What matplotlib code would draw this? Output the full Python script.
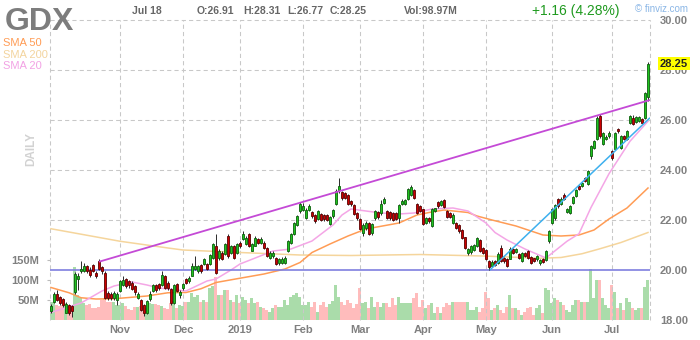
import matplotlib
matplotlib.use("Agg")
import matplotlib.pyplot as plt
import matplotlib.transforms as mtrans
import numpy as np

plt.rcParams['font.family'] = ['Liberation Sans', 'DejaVu Sans']

# ---------------- data (trading days 2018-10-01 .. 2019-07-18) ----------------
ticker = "GDX"
month_labels = ["Nov", "Dec", "2019", "Feb", "Mar", "Apr", "May", "Jun", "Jul"]
month_idx = [23, 44, 63, 84, 103, 124, 145, 167, 187]

opens = [
    # Oct
    18.38, 18.72, 19.05, 18.92, 18.85, 18.30, 18.60, 18.55, 19.10, 19.66, 19.95, 19.98, 20.15, 20.00, 20.20,
    19.88, 20.35, 20.10, 19.88, 19.10, 19.05, 18.90, 18.80,
    # Nov
    19.15, 19.40, 19.62, 19.55, 19.50, 19.35, 18.90, 18.80, 18.60, 18.30, 18.85, 19.15, 19.40, 19.45, 19.40,
    19.75, 19.50, 19.25, 18.70, 19.42, 19.00,
    # Dec
    19.28, 19.64, 19.56, 19.78, 20.05, 19.98, 20.20, 20.24, 20.24, 20.25, 20.50, 20.95, 20.50, 20.68, 20.65,
    21.36, 20.70, 20.95, 20.70,
    # Jan
    21.10, 21.25, 21.05, 21.44, 20.78, 20.98, 21.25, 21.10, 21.08, 20.88, 20.50, 20.55, 20.48, 20.28, 20.30,
    20.30, 20.78, 21.10, 21.45, 21.80, 22.36,
    # Feb
    22.42, 22.10, 22.40, 22.32, 22.20, 22.05, 22.24, 22.20, 22.20, 21.86, 22.16, 22.65, 23.22, 23.10, 23.08,
    23.02, 22.76, 22.62, 22.28,
    # Mar
    22.04, 21.50, 21.68, 21.88, 21.48, 22.08, 22.32, 22.28, 22.70, 22.36, 22.30, 22.28, 22.28, 22.10, 22.64,
    22.66, 22.86, 23.00, 23.20, 22.64, 22.56,
    # Apr
    22.42, 21.90, 22.08, 21.78, 22.38, 22.72, 22.60, 22.80, 22.36, 22.30, 21.90, 21.88, 21.80, 21.62, 21.30,
    20.68, 20.72, 20.80, 20.98, 21.20, 20.88,
    # May
    20.82, 20.36, 20.16, 20.36, 20.30, 20.88, 20.48, 20.46, 20.46, 20.86, 20.72, 20.64, 20.38, 20.68, 20.76,
    20.54, 20.46, 20.42, 20.30, 20.46, 20.40, 21.16,
    # Jun
    21.90, 22.10, 22.84, 22.66, 23.00, 22.32, 22.30, 22.70, 22.98, 23.36, 23.36, 23.68, 23.46, 24.58, 24.90,
    25.25, 26.16, 25.06, 25.24, 25.36,
    # Jul
    24.76, 24.86, 25.64, 24.90, 25.36, 25.26, 25.90, 26.08, 25.92, 25.96, 26.04, 26.10, 26.91,
]
closes = [
    18.56, 19.03, 18.82, 18.68, 18.60, 18.66, 18.30, 18.35, 19.85, 19.76, 20.05, 20.15, 19.95, 19.80, 19.98,
    19.78, 20.05, 19.95, 18.90, 18.90, 18.90, 19.10, 19.05,
    19.55, 19.62, 19.35, 19.40, 19.25, 19.10, 19.05, 18.40, 18.30, 18.75, 19.05, 19.40, 19.20, 19.30, 19.82,
    19.30, 19.30, 18.70, 19.40, 19.18, 19.12,
    19.44, 19.50, 19.70, 20.15, 20.18, 20.15, 19.95, 20.44, 20.04, 20.60, 21.04, 19.90, 20.75, 20.45, 21.04,
    20.56, 20.95, 20.50, 21.04,
    20.96, 21.44, 21.28, 20.98, 21.04, 21.28, 21.10, 21.25, 20.90, 20.58, 20.68, 20.70, 20.25, 20.45, 20.45,
    20.48, 21.16, 21.44, 21.88, 22.16, 22.64,
    22.58, 22.42, 22.58, 22.16, 21.95, 22.35, 22.02, 22.04, 22.00, 22.12, 22.40, 23.16, 23.38, 22.88, 22.90,
    22.66, 22.64, 22.26, 22.08,
    21.66, 21.82, 21.88, 21.46, 21.84, 22.36, 22.12, 22.64, 22.86, 22.10, 22.08, 22.00, 22.04, 22.62, 22.78,
    22.78, 23.24, 23.32, 22.90, 22.30, 22.38,
    21.86, 22.08, 21.95, 22.46, 22.46, 22.56, 22.76, 22.52, 22.14, 22.12, 22.22, 21.70, 21.56, 21.30, 20.90,
    20.84, 20.96, 21.00, 21.28, 20.78, 20.70,
    20.46, 20.10, 20.34, 20.22, 20.66, 20.38, 20.36, 20.18, 20.86, 20.70, 20.85, 20.50, 20.68, 20.56, 20.50,
    20.30, 20.36, 20.56, 20.42, 20.34, 20.76, 21.56,
    22.44, 22.60, 22.56, 22.86, 22.84, 22.44, 22.56, 22.92, 23.20, 23.24, 23.48, 23.56, 23.96, 24.96, 25.16,
    26.08, 25.38, 25.48, 25.32, 25.48,
    24.48, 25.48, 25.56, 25.36, 25.24, 25.56, 26.16, 25.86, 26.14, 26.10, 25.90, 27.09, 28.25,
]
highs = [
    18.66, 19.12, 19.20, 18.98, 18.90, 18.72, 18.64, 18.60, 19.92, 19.90, 20.35, 20.30, 20.20, 20.10, 20.25,
    19.98, 20.42, 20.18, 19.95, 19.15, 19.10, 19.18, 19.10,
    19.62, 19.75, 19.68, 19.60, 19.55, 19.40, 19.10, 18.85, 18.65, 18.80, 19.15, 19.45, 19.45, 19.50, 19.95,
    19.80, 19.58, 19.30, 19.45, 19.50, 19.20,
    19.50, 19.70, 19.75, 20.30, 20.55, 20.22, 20.25, 20.50, 20.30, 20.65, 21.10, 21.44, 20.85, 20.75, 21.10,
    21.45, 21.00, 21.00, 21.10,
    21.15, 21.55, 21.35, 21.50, 21.10, 21.35, 21.30, 21.32, 21.15, 20.92, 20.75, 20.75, 20.52, 20.50, 20.52,
    20.55, 21.20, 21.50, 21.92, 22.22, 22.72,
    22.68, 22.48, 22.64, 22.38, 22.25, 22.40, 22.30, 22.26, 22.25, 22.18, 22.45, 23.25, 23.70, 23.15, 23.12,
    23.05, 22.80, 22.66, 22.32,
    22.08, 21.88, 21.95, 21.92, 21.90, 22.42, 22.36, 22.80, 22.92, 22.40, 22.35, 22.32, 22.32, 22.66, 22.84,
    22.84, 23.30, 23.40, 23.25, 22.68, 22.60,
    22.46, 22.12, 22.12, 22.50, 22.50, 22.76, 22.80, 22.84, 22.40, 22.34, 22.28, 21.92, 21.84, 21.66, 21.34,
    20.88, 21.00, 21.05, 21.32, 21.24, 20.92,
    20.86, 20.40, 20.40, 20.40, 20.72, 21.00, 20.52, 20.50, 20.92, 20.90, 20.90, 20.68, 20.72, 20.72, 20.80,
    20.58, 20.50, 20.60, 20.46, 20.50, 20.80, 21.60,
    22.50, 22.66, 22.90, 22.92, 23.10, 22.48, 22.60, 22.96, 23.25, 23.40, 23.52, 23.72, 24.00, 25.02, 25.20,
    26.18, 26.26, 25.52, 25.40, 25.55,
    24.80, 25.52, 25.68, 25.40, 25.40, 25.60, 26.22, 26.20, 26.18, 26.16, 26.08, 27.14, 28.31,
]
lows = [
    18.30, 18.68, 18.76, 18.60, 18.52, 18.26, 18.22, 18.10, 19.05, 19.20, 19.88, 19.92, 19.90, 19.72, 19.92,
    19.70, 20.00, 19.85, 18.85, 18.82, 18.80, 18.80, 18.60,
    19.10, 19.35, 19.28, 19.30, 19.20, 19.02, 18.85, 18.35, 18.18, 18.25, 18.75, 19.10, 19.12, 19.22, 19.35,
    19.25, 19.22, 18.60, 18.65, 19.10, 18.90,
    19.20, 19.45, 19.50, 19.75, 20.00, 19.90, 19.88, 20.20, 20.00, 20.20, 20.45, 19.85, 20.40, 20.40, 20.60,
    20.50, 20.65, 20.45, 20.65,
    20.90, 21.20, 21.00, 20.92, 20.75, 20.95, 21.05, 21.05, 20.85, 20.52, 20.45, 20.50, 20.20, 20.22, 20.25,
    20.25, 20.72, 21.05, 21.40, 21.75, 22.30,
    22.35, 22.05, 22.35, 22.10, 21.90, 22.00, 21.98, 21.98, 21.95, 21.80, 22.10, 22.60, 23.10, 22.82, 22.85,
    22.60, 22.58, 22.20, 22.02,
    21.60, 21.36, 21.62, 21.40, 21.42, 22.02, 22.06, 22.22, 22.65, 22.05, 22.02, 21.95, 22.00, 21.90, 22.60,
    22.60, 22.80, 22.95, 22.85, 22.25, 22.32,
    21.80, 21.85, 21.90, 21.72, 22.34, 22.50, 22.55, 22.48, 22.10, 22.08, 21.85, 21.65, 21.50, 21.25, 20.85,
    20.62, 20.65, 20.75, 20.94, 20.72, 20.65,
    20.40, 20.02, 20.12, 20.18, 20.25, 20.32, 20.30, 20.12, 20.42, 20.65, 20.68, 20.45, 20.34, 20.52, 20.45,
    20.25, 20.32, 20.38, 20.22, 20.30, 20.36, 21.10,
    21.85, 22.00, 22.50, 22.60, 22.80, 22.28, 22.25, 22.65, 22.94, 23.20, 23.32, 23.52, 23.42, 24.45, 24.85,
    25.20, 25.30, 25.00, 25.20, 25.30,
    24.40, 24.80, 25.50, 24.85, 25.20, 25.20, 25.85, 25.80, 25.88, 25.92, 25.85, 26.05, 26.77,
]
volumes_m = [
    46, 45, 38, 35, 38, 42, 33, 35, 133, 62, 54, 42, 38, 40, 30, 30, 32, 50, 56, 46, 44, 46, 37,
    38, 42, 35, 28, 26, 33, 32, 36, 38, 30, 42, 40, 41, 38, 35, 29, 28, 42, 48, 29, 38,
    35, 44, 46, 67, 58, 62, 46, 50, 46, 79, 84, 108, 62, 62, 75, 75, 50, 46, 62,
    42, 58, 50, 42, 54, 42, 46, 33, 29, 25, 21, 29, 37, 33, 33, 50, 38, 58, 62, 67, 58,
    37, 37, 46, 33, 46, 21, 37, 46, 33, 40, 48, 87, 58, 46, 37, 50, 42, 29, 40,
    79, 42, 46, 29, 58, 33, 46, 33, 42, 42, 33, 54, 37, 58, 42, 42, 42, 42, 54, 67, 33,
    50, 29, 37, 42, 17, 33, 17, 33, 42, 37, 46, 46, 46, 46, 46, 46, 25, 25, 33, 21, 30,
    71, 54, 25, 29, 37, 25, 17, 33, 62, 29, 29, 25, 13, 20, 29, 33, 13, 29, 37, 17, 79, 75,
    42, 54, 50, 46, 37, 25, 21, 38, 50, 50, 46, 46, 46, 127, 54, 100, 100, 54, 37, 29,
    87, 71, 29, 42, 25, 54, 46, 29, 25, 29, 29, 83, 99,
]

# moving averages (bar index, value)
sma200_idx = [0, 23, 39, 44, 63, 83, 100, 123, 144, 163, 170, 177, 183, 190, 199]
sma200_val = [21.65, 21.15, 20.88, 20.80, 20.70, 20.60, 20.58, 20.62, 20.56, 20.47, 20.50, 20.65, 20.85, 21.10, 21.50]
sma50_idx = [0, 6, 10, 15, 21, 32, 39, 45, 50, 55, 62, 71, 78, 83, 87, 93, 99, 105, 116, 122, 126, 131,
             139, 142, 147, 155, 164, 170, 176, 181, 186, 192, 199]
sma50_val = [19.30, 19.09, 18.89, 18.84, 18.85, 18.96, 19.09, 19.10, 19.25, 19.50, 19.65, 19.84, 20.04, 20.30,
             20.70, 21.04, 21.36, 21.64, 21.88, 22.20, 22.30, 22.40, 22.30, 22.16, 22.00, 21.76, 21.40, 21.36,
             21.40, 21.60, 22.04, 22.48, 23.28]
sma20_idx = [0, 10, 17, 21, 27, 32, 36, 45, 52, 55, 60, 63, 74, 80, 87, 94, 97, 100, 105, 110, 116, 121,
             127, 134, 139, 145, 148, 152, 158, 165, 172, 176, 180, 186, 193, 199]
sma20_val = [18.30, 18.68, 19.16, 19.36, 19.52, 19.40, 19.28, 19.16, 19.56, 19.64, 20.00, 20.24, 20.76, 20.84,
             21.16, 21.80, 22.20, 22.44, 22.36, 22.28, 22.24, 22.28, 22.44, 22.48, 22.36, 21.88, 21.50, 21.20,
             20.84, 20.48, 21.15, 21.45, 22.50, 23.85, 25.15, 25.95]

# trend lines (bar index, price)
trend_up_idx = [16, 199.67]
trend_up_val = [20.33, 26.80]
trend_fast_idx = [146.3, 199.67]
trend_fast_val = [20.00, 26.09]
hline_level = 20.0

price_ticks = [18, 20, 22, 24, 26, 28, 30]
vol_ticks = [50, 100, 150]
vol_tick_labels = ["50M", "100M", "150M"]

# ---------------- figure ----------------
W, H = 700, 340
fig = plt.figure(figsize=(W / 100, H / 100), dpi=100)
fig.patch.set_facecolor("white")
L, R, T, B = 50, 650, 20, 320
pos = [L / W, (H - B) / H, (R - L) / W, (B - T) / H]

n = len(closes)
x = np.arange(n)
xlo, xhi = -0.33, n - 0.33

GRID = "#c8c8c8"
LABEL = "#808080"

axv = fig.add_axes(pos)
ax = fig.add_axes(pos)
ax.patch.set_alpha(0)

# volume axis
up = [c >= o for o, c in zip(opens, closes)]
vcol = ["#aadcaa" if u else "#ffbcbc" for u in up]
axv.bar(x, volumes_m, width=1.0, color=vcol, linewidth=0)
axv.set_xlim(xlo, xhi)
axv.set_ylim(0, 750)
for s in axv.spines.values():
    s.set_visible(False)
axv.set_xticks([])
axv.set_yticks(vol_ticks)
axv.set_yticklabels(vol_tick_labels)
axv.tick_params(axis="y", length=2.5, width=0.8, color="#bbbbbb", pad=5, labelsize=8,
                labelcolor=LABEL)
for t in axv.get_yticklabels():
    t.set_fontweight("bold")

# price axis
ax.set_xlim(xlo, xhi)
ax.set_ylim(18, 30)
for s in ax.spines.values():
    s.set_visible(False)

dash = (0, (4, 3))
for t in month_idx + [xlo, xhi]:
    ax.axvline(t, color=GRID, lw=0.75, ls=dash, zorder=0.5, clip_on=False)
for p in price_ticks:
    if p in (18, 20):
        continue
    ax.axhline(p, color=GRID, lw=0.75, ls=dash, zorder=0.5, clip_on=False)

ax.plot(sma200_idx, sma200_val, color="#f5d59c", lw=1.1, zorder=1)
ax.plot(sma50_idx, sma50_val, color="#ff9c55", lw=1.1, zorder=1)
ax.plot(sma20_idx, sma20_val, color="#f4a6e6", lw=1.1, zorder=1)

ax.axhline(hline_level, color="#7f7fdf", lw=1.2, zorder=1.5)

# candles
ax.vlines(x, lows, highs, color="#2a2a2a", lw=0.7, zorder=2)
bottoms = [min(o, c) for o, c in zip(opens, closes)]
heights = [max(abs(c - o), 0.03) for o, c in zip(opens, closes)]
ccol = ["#1fc41f" if u else "#cc0000" for u in up]
ecol = ["#0b5e0b" if u else "#5a0000" for u in up]
ax.bar(x, heights, bottom=bottoms, width=0.72, color=ccol, edgecolor=ecol, linewidth=0.6, zorder=3)

ax.plot(trend_up_idx, trend_up_val, color="#c44ad6", lw=1.3, zorder=4, solid_capstyle="butt")
ax.plot(trend_fast_idx, trend_fast_val, color="#3eb0ee", lw=1.1, zorder=4, solid_capstyle="butt")

ax.yaxis.tick_right()
ax.set_yticks(price_ticks)
ax.set_yticklabels(["%.2f" % p for p in price_ticks])
ax.tick_params(axis="y", length=0, pad=7.2, labelsize=8, labelcolor=LABEL)
ax.set_xticks(month_idx)
ax.set_xticklabels(month_labels)
ax.tick_params(axis="x", length=0, pad=3.5, labelsize=8, labelcolor=LABEL)
for t in ax.get_yticklabels() + ax.get_xticklabels():
    t.set_fontweight("bold")

# last price label
tr = mtrans.blended_transform_factory(ax.transAxes, ax.transData)
ax.text(1.0 + 10 / 600, closes[-1], "%.2f" % closes[-1], transform=tr, ha="left", va="center",
        fontsize=8, fontweight="bold", color="#222222", zorder=10, clip_on=False,
        bbox=dict(boxstyle="square,pad=0.15", fc="#ffff00", ec="none"))

# header texts
def ftext(px, py, s, **kw):
    fig.text(px / W, 1 - py / H, s, **kw)

ftext(5, 30, ticker, fontsize=23, fontweight="bold", color="#7d7d7d", va="baseline", ha="left")
ftext(3, 46, "SMA 50", fontsize=8, color="#ff9c55", va="baseline")
ftext(3, 57.5, "SMA 200", fontsize=8, color="#f3d49e", va="baseline")
ftext(3, 69, "SMA 20", fontsize=8, color="#f2a2e4", va="baseline")
ftext(31, 149, "DAILY", fontsize=8.5, fontweight="bold", color="#d2d2d2", rotation=90,
      ha="center", va="center")

hdr = dict(fontsize=7.5, fontweight="bold", color="#666666", va="baseline", ha="left")
ftext(132, 14.5, "Jul 18", **hdr)
ftext(197, 14.5, "O:%.2f" % opens[-1], **hdr)
ftext(243, 14.5, "H:%.2f" % highs[-1], **hdr)
ftext(287, 14.5, "L:%.2f" % lows[-1], **hdr)
ftext(330, 14.5, "C:%.2f" % closes[-1], **hdr)
ftext(404, 14.5, "Vol:%.2fM" % 98.97, **hdr)
chg = closes[-1] - closes[-2]
ftext(532, 15, "+%.2f (%.2f%%)" % (chg, chg / closes[-2] * 100), fontsize=10, color="#1f9a1f",
      va="baseline", ha="left")
ftext(635, 12, "\u00a9 finviz.com", fontsize=7, color="#8ab6e6", va="baseline", ha="left")

fig.savefig("out.png", dpi=100, facecolor="white")
